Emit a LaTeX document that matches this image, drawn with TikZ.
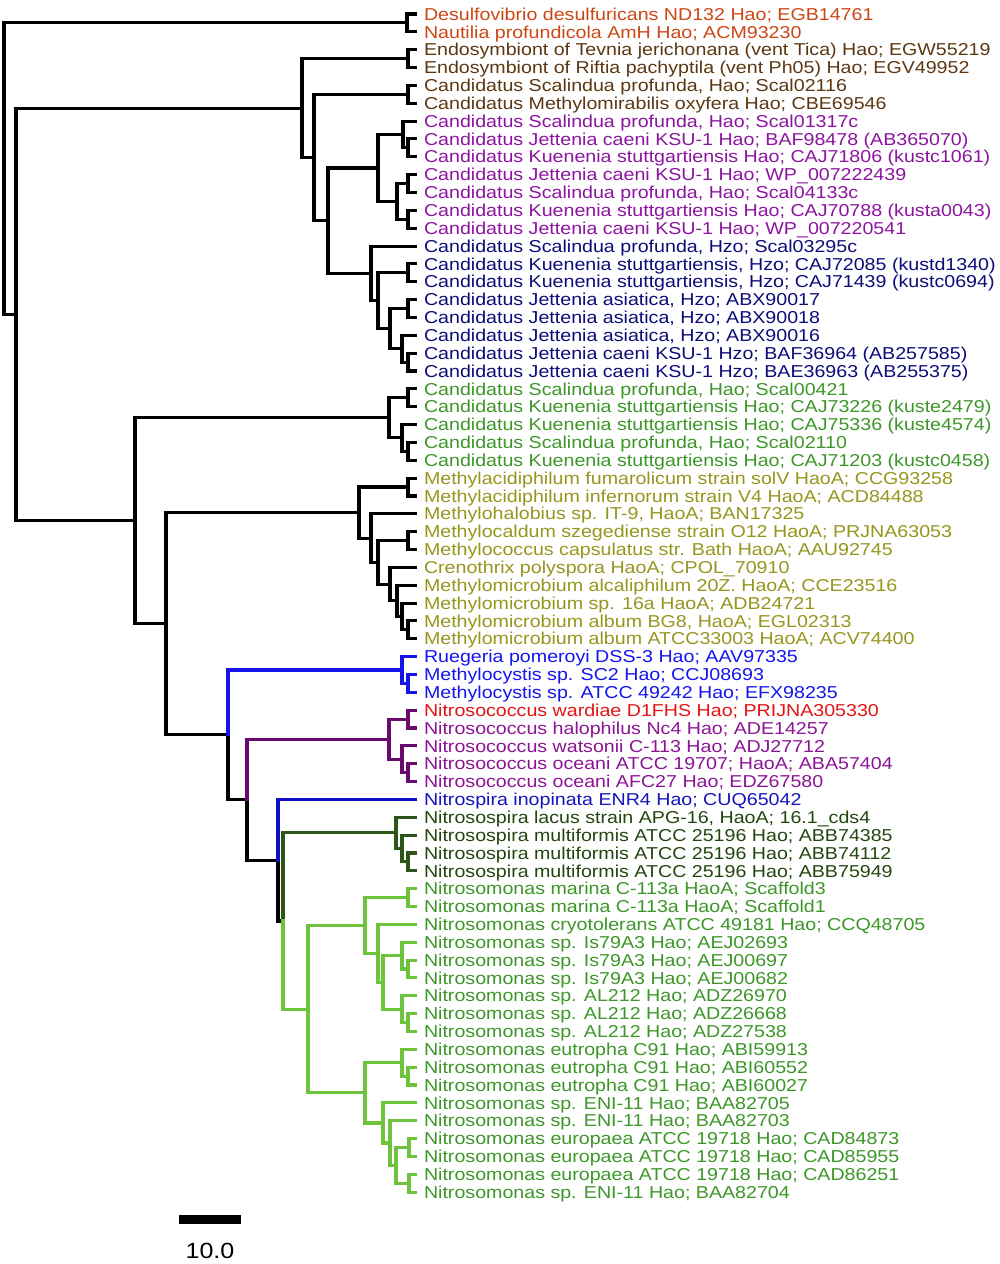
\documentclass[tikz,border=0pt]{standalone}
\usepackage{fontspec}
\setmainfont{Liberation Sans}[FakeStretch=1.14]
% label colours
\definecolor{tOrange}{RGB}{206,70,20}
\definecolor{tBrown}{RGB}{92,55,18}
\definecolor{tPurple}{RGB}{140,20,160}
\definecolor{tNavy}{RGB}{12,12,120}
\definecolor{tGreen}{RGB}{60,150,40}
\definecolor{tOlive}{RGB}{150,150,30}
\definecolor{tBlue}{RGB}{20,20,240}
\definecolor{tRed}{RGB}{228,20,20}
\definecolor{tViolet}{RGB}{140,20,150}
\definecolor{tMidBlue}{RGB}{20,20,190}
\definecolor{tDkGreen}{RGB}{35,70,15}
% branch colours
\definecolor{bBlue}{RGB}{20,20,235}
\definecolor{bPurple}{RGB}{105,10,110}
\definecolor{bMidBlue}{RGB}{15,15,195}
\definecolor{bDkGreen}{RGB}{45,85,25}
\definecolor{bLtGreen}{RGB}{110,195,60}
\begin{document}
\begin{tikzpicture}[x=0.02cm, y=-0.02cm,
		branch/.style={line width=0.062cm, line cap=rect, line join=miter},
		leaf/.style={anchor=west, inner xsep=0.18cm, inner ysep=0pt, outer sep=0pt,
			text height=7.05pt, text depth=0pt, font=\fontsize{9.8}{11}\selectfont}]
			\useasboundingbox (0,0) rectangle (1000,1264);
			% leaves
			\node [leaf, text=tOrange] (l1) at (415,14) {Desulfovibrio desulfuricans ND132 Hao; EGB14761};
			\node [leaf, text=tOrange] (l2) at (415,31.85) {Nautilia profundicola AmH Hao; ACM93230};
			\node [leaf, text=tBrown] (l3) at (415,49.7) {Endosymbiont of Tevnia jerichonana (vent Tica) Hao; EGW55219};
			\node [leaf, text=tBrown] (l4) at (415,67.55) {Endosymbiont of Riftia pachyptila (vent Ph05) Hao; EGV49952};
			\node [leaf, text=tBrown] (l5) at (415,85.4) {Candidatus Scalindua profunda, Hao; Scal02116};
			\node [leaf, text=tBrown] (l6) at (415,103.25) {Candidatus Methylomirabilis oxyfera Hao; CBE69546};
			\node [leaf, text=tPurple] (l7) at (415,121.1) {Candidatus Scalindua profunda, Hao; Scal01317c};
			\node [leaf, text=tPurple] (l8) at (415,138.95) {Candidatus Jettenia caeni KSU-1 Hao; BAF98478 (AB365070)};
			\node [leaf, text=tPurple] (l9) at (415,156.8) {Candidatus Kuenenia stuttgartiensis Hao; CAJ71806 (kustc1061)};
			\node [leaf, text=tPurple] (l10) at (415,174.65) {Candidatus Jettenia caeni KSU-1 Hao; WP\_007222439};
			\node [leaf, text=tPurple] (l11) at (415,192.5) {Candidatus Scalindua profunda, Hao; Scal04133c};
			\node [leaf, text=tPurple] (l12) at (415,210.35) {Candidatus Kuenenia stuttgartiensis Hao; CAJ70788 (kusta0043)};
			\node [leaf, text=tPurple] (l13) at (415,228.2) {Candidatus Jettenia caeni KSU-1 Hao; WP\_007220541};
			\node [leaf, text=tNavy] (l14) at (415,246.05) {Candidatus Scalindua profunda, Hzo; Scal03295c};
			\node [leaf, text=tNavy] (l15) at (415,263.9) {Candidatus Kuenenia stuttgartiensis, Hzo; CAJ72085 (kustd1340)};
			\node [leaf, text=tNavy] (l16) at (415,281.75) {Candidatus Kuenenia stuttgartiensis, Hzo; CAJ71439 (kustc0694)};
			\node [leaf, text=tNavy] (l17) at (415,299.6) {Candidatus Jettenia asiatica, Hzo; ABX90017};
			\node [leaf, text=tNavy] (l18) at (415,317.45) {Candidatus Jettenia asiatica, Hzo; ABX90018};
			\node [leaf, text=tNavy] (l19) at (415,335.3) {Candidatus Jettenia asiatica, Hzo; ABX90016};
			\node [leaf, text=tNavy] (l20) at (415,353.15) {Candidatus Jettenia caeni KSU-1 Hzo; BAF36964 (AB257585)};
			\node [leaf, text=tNavy] (l21) at (415,371) {Candidatus Jettenia caeni KSU-1 Hzo; BAE36963 (AB255375)};
			\node [leaf, text=tGreen] (l22) at (415,388.85) {Candidatus Scalindua profunda, Hao; Scal00421};
			\node [leaf, text=tGreen] (l23) at (415,406.7) {Candidatus Kuenenia stuttgartiensis Hao; CAJ73226 (kuste2479)};
			\node [leaf, text=tGreen] (l24) at (415,424.55) {Candidatus Kuenenia stuttgartiensis Hao; CAJ75336 (kuste4574)};
			\node [leaf, text=tGreen] (l25) at (415,442.4) {Candidatus Scalindua profunda, Hao; Scal02110};
			\node [leaf, text=tGreen] (l26) at (415,460.25) {Candidatus Kuenenia stuttgartiensis Hao; CAJ71203 (kustc0458)};
			\node [leaf, text=tOlive] (l27) at (415,478.1) {Methylacidiphilum fumarolicum strain solV HaoA; CCG93258};
			\node [leaf, text=tOlive] (l28) at (415,495.95) {Methylacidiphilum infernorum strain V4 HaoA; ACD84488};
			\node [leaf, text=tOlive] (l29) at (415,513.8) {Methylohalobius sp. IT-9, HaoA; BAN17325};
			\node [leaf, text=tOlive] (l30) at (415,531.65) {Methylocaldum szegediense strain O12 HaoA; PRJNA63053};
			\node [leaf, text=tOlive] (l31) at (415,549.5) {Methylococcus capsulatus str. Bath HaoA; AAU92745};
			\node [leaf, text=tOlive] (l32) at (415,567.35) {Crenothrix polyspora HaoA; CPOL\_70910};
			\node [leaf, text=tOlive] (l33) at (415,585.2) {Methylomicrobium alcaliphilum 20Z. HaoA; CCE23516};
			\node [leaf, text=tOlive] (l34) at (415,603.05) {Methylomicrobium sp. 16a HaoA; ADB24721};
			\node [leaf, text=tOlive] (l35) at (415,620.9) {Methylomicrobium album BG8, HaoA; EGL02313};
			\node [leaf, text=tOlive] (l36) at (415,638.75) {Methylomicrobium album ATCC33003 HaoA; ACV74400};
			\node [leaf, text=tBlue] (l37) at (415,656.6) {Ruegeria pomeroyi DSS-3 Hao; AAV97335};
			\node [leaf, text=tBlue] (l38) at (415,674.45) {Methylocystis sp. SC2 Hao; CCJ08693};
			\node [leaf, text=tBlue] (l39) at (415,692.3) {Methylocystis sp. ATCC 49242 Hao; EFX98235};
			\node [leaf, text=tRed] (l40) at (415,710.15) {Nitrosococcus wardiae D1FHS Hao; PRIJNA305330};
			\node [leaf, text=tViolet] (l41) at (415,728) {Nitrosococcus halophilus Nc4 Hao; ADE14257};
			\node [leaf, text=tViolet] (l42) at (415,745.85) {Nitrosococcus watsonii C-113 Hao; ADJ27712};
			\node [leaf, text=tViolet] (l43) at (415,763.7) {Nitrosococcus oceani ATCC 19707; HaoA; ABA57404};
			\node [leaf, text=tViolet] (l44) at (415,781.55) {Nitrosococcus oceani AFC27 Hao; EDZ67580};
			\node [leaf, text=tMidBlue] (l45) at (415,799.4) {Nitrospira inopinata ENR4 Hao; CUQ65042};
			\node [leaf, text=tDkGreen] (l46) at (415,817.25) {Nitrosospira lacus strain APG-16, HaoA; 16.1\_cds4};
			\node [leaf, text=tDkGreen] (l47) at (415,835.1) {Nitrosospira multiformis ATCC 25196 Hao; ABB74385};
			\node [leaf, text=tDkGreen] (l48) at (415,852.95) {Nitrosospira multiformis ATCC 25196 Hao; ABB74112};
			\node [leaf, text=tDkGreen] (l49) at (415,870.8) {Nitrosospira multiformis ATCC 25196 Hao; ABB75949};
			\node [leaf, text=tGreen] (l50) at (415,888.65) {Nitrosomonas marina C-113a HaoA; Scaffold3};
			\node [leaf, text=tGreen] (l51) at (415,906.5) {Nitrosomonas marina C-113a HaoA; Scaffold1};
			\node [leaf, text=tGreen] (l52) at (415,924.35) {Nitrosomonas cryotolerans ATCC 49181 Hao; CCQ48705};
			\node [leaf, text=tGreen] (l53) at (415,942.2) {Nitrosomonas sp. Is79A3 Hao; AEJ02693};
			\node [leaf, text=tGreen] (l54) at (415,960.05) {Nitrosomonas sp. Is79A3 Hao; AEJ00697};
			\node [leaf, text=tGreen] (l55) at (415,977.9) {Nitrosomonas sp. Is79A3 Hao; AEJ00682};
			\node [leaf, text=tGreen] (l56) at (415,995.75) {Nitrosomonas sp. AL212 Hao; ADZ26970};
			\node [leaf, text=tGreen] (l57) at (415,1013.6) {Nitrosomonas sp. AL212 Hao; ADZ26668};
			\node [leaf, text=tGreen] (l58) at (415,1031.45) {Nitrosomonas sp. AL212 Hao; ADZ27538};
			\node [leaf, text=tGreen] (l59) at (415,1049.3) {Nitrosomonas eutropha C91 Hao; ABI59913};
			\node [leaf, text=tGreen] (l60) at (415,1067.15) {Nitrosomonas eutropha C91 Hao; ABI60552};
			\node [leaf, text=tGreen] (l61) at (415,1085) {Nitrosomonas eutropha C91 Hao; ABI60027};
			\node [leaf, text=tGreen] (l62) at (415,1102.85) {Nitrosomonas sp. ENI-11 Hao; BAA82705};
			\node [leaf, text=tGreen] (l63) at (415,1120.7) {Nitrosomonas sp. ENI-11 Hao; BAA82703};
			\node [leaf, text=tGreen] (l64) at (415,1138.55) {Nitrosomonas europaea ATCC 19718 Hao; CAD84873};
			\node [leaf, text=tGreen] (l65) at (415,1156.4) {Nitrosomonas europaea ATCC 19718 Hao; CAD85955};
			\node [leaf, text=tGreen] (l66) at (415,1174.25) {Nitrosomonas europaea ATCC 19718 Hao; CAD86251};
			\node [leaf, text=tGreen] (l67) at (415,1192.1) {Nitrosomonas sp. ENI-11 Hao; BAA82704};
			% internal nodes
			\coordinate (r0) at (4,168.68);
			\coordinate (a1) at (407,22.93);
			\coordinate (b0) at (16,314.43);
			\coordinate (c0) at (302,108.07);
			\coordinate (a2) at (408,58.63);
			\coordinate (c1) at (314,157.5);
			\coordinate (a3) at (408,94.33);
			\coordinate (c2) at (328,220.68);
			\coordinate (c3) at (378,167.96);
			\coordinate (c4) at (403,134.49);
			\coordinate (a4) at (408,147.88);
			\coordinate (c5) at (397,201.43);
			\coordinate (a5) at (408,183.58);
			\coordinate (a6) at (408,219.28);
			\coordinate (c7) at (371,273.39);
			\coordinate (c8) at (378,300.72);
			\coordinate (a7) at (408,272.83);
			\coordinate (c9) at (390,328.61);
			\coordinate (a8) at (408,308.53);
			\coordinate (c10) at (402,348.69);
			\coordinate (a9) at (408,362.08);
			\coordinate (d0) at (135,520.78);
			\coordinate (d1) at (389,417.86);
			\coordinate (a10) at (408,397.78);
			\coordinate (d2) at (402,437.94);
			\coordinate (a11) at (408,451.33);
			\coordinate (e0) at (166,623.7);
			\coordinate (e1) at (359,512.55);
			\coordinate (a12) at (408,487.03);
			\coordinate (e2) at (371,538.07);
			\coordinate (e3) at (378,562.33);
			\coordinate (a13) at (408,540.58);
			\coordinate (e4) at (390,584.09);
			\coordinate (e5) at (397,600.82);
			\coordinate (e6) at (402,616.44);
			\coordinate (a14) at (408,629.83);
			\coordinate (f0) at (228,734.84);
			\coordinate (g0) at (402,669.99);
			\coordinate (a15) at (408,683.38);
			\coordinate (f1) at (247,799.68);
			\coordinate (h0) at (389,739.16);
			\coordinate (a16) at (408,719.08);
			\coordinate (h1) at (402,759.24);
			\coordinate (a17) at (408,772.63);
			\coordinate (i0) at (278,860.2);
			\coordinate (i1) at (283,921.01);
			\coordinate (j0) at (396,832.87);
			\coordinate (j1) at (402,848.49);
			\coordinate (a18) at (408,861.88);
			\coordinate (k0) at (308,1009.15);
			\coordinate (k1) at (365,925.47);
			\coordinate (a19) at (408,897.58);
			\coordinate (k2) at (378,953.36);
			\coordinate (k3) at (383,982.37);
			\coordinate (k4) at (402,955.59);
			\coordinate (a20) at (408,968.98);
			\coordinate (k5) at (402,1009.14);
			\coordinate (a21) at (408,1022.53);
			\coordinate (m0) at (365,1092.82);
			\coordinate (m1) at (402,1062.69);
			\coordinate (a22) at (408,1076.08);
			\coordinate (m2) at (383,1122.94);
			\coordinate (m3) at (390,1143.02);
			\coordinate (m4) at (396,1165.33);
			\coordinate (a23) at (409,1147.48);
			\coordinate (a24) at (409,1183.18);
			% black branches
			\draw [branch] (r0) |- (a1) (r0) |- (b0);
			\draw [branch] (a1) |- (l1.west) (a1) |- (l2.west);
			\draw [branch] (b0) |- (c0) (b0) |- (d0);
			\draw [branch] (c0) |- (a2) (c0) |- (c1);
			\draw [branch] (a2) |- (l3.west) (a2) |- (l4.west);
			\draw [branch] (c1) |- (a3) (c1) |- (c2);
			\draw [branch] (a3) |- (l5.west) (a3) |- (l6.west);
			\draw [branch] (c2) |- (c3) (c2) |- (c7);
			\draw [branch] (c3) |- (c4) (c3) |- (c5);
			\draw [branch] (c4) |- (l7.west) (c4) |- (a4);
			\draw [branch] (a4) |- (l8.west) (a4) |- (l9.west);
			\draw [branch] (c5) |- (a5) (c5) |- (a6);
			\draw [branch] (a5) |- (l10.west) (a5) |- (l11.west);
			\draw [branch] (a6) |- (l12.west) (a6) |- (l13.west);
			\draw [branch] (c7) |- (l14.west) (c7) |- (c8);
			\draw [branch] (c8) |- (a7) (c8) |- (c9);
			\draw [branch] (a7) |- (l15.west) (a7) |- (l16.west);
			\draw [branch] (c9) |- (a8) (c9) |- (c10);
			\draw [branch] (a8) |- (l17.west) (a8) |- (l18.west);
			\draw [branch] (c10) |- (l19.west) (c10) |- (a9);
			\draw [branch] (a9) |- (l20.west) (a9) |- (l21.west);
			\draw [branch] (d0) |- (d1) (d0) |- (e0);
			\draw [branch] (d1) |- (a10) (d1) |- (d2);
			\draw [branch] (a10) |- (l22.west) (a10) |- (l23.west);
			\draw [branch] (d2) |- (l24.west) (d2) |- (a11);
			\draw [branch] (a11) |- (l25.west) (a11) |- (l26.west);
			\draw [branch] (e0) |- (e1) (e0) |- (f0);
			\draw [branch] (e1) |- (a12) (e1) |- (e2);
			\draw [branch] (a12) |- (l27.west) (a12) |- (l28.west);
			\draw [branch] (e2) |- (l29.west) (e2) |- (e3);
			\draw [branch] (e3) |- (a13) (e3) |- (e4);
			\draw [branch] (a13) |- (l30.west) (a13) |- (l31.west);
			\draw [branch] (e4) |- (l32.west) (e4) |- (e5);
			\draw [branch] (e5) |- (l33.west) (e5) |- (e6);
			\draw [branch] (e6) |- (l34.west) (e6) |- (a14);
			\draw [branch] (a14) |- (l35.west) (a14) |- (l36.west);
			\draw [branch] (f0) |- (f1);
			\draw [branch] (f1) |- (i0);
			\draw [branch] (i0) |- (i1);
			% Methylocystis / Ruegeria
			\draw [branch, bBlue] (f0) |- (g0);
			\draw [branch, bBlue] (g0) |- (l37.west) (g0) |- (a15);
			\draw [branch, bBlue] (a15) |- (l38.west) (a15) |- (l39.west);
			% Nitrosococcus
			\draw [branch, bPurple] (f1) |- (h0);
			\draw [branch, bPurple] (h0) |- (a16) (h0) |- (h1);
			\draw [branch, bPurple] (a16) |- (l40.west) (a16) |- (l41.west);
			\draw [branch, bPurple] (h1) |- (l42.west) (h1) |- (a17);
			\draw [branch, bPurple] (a17) |- (l43.west) (a17) |- (l44.west);
			% Nitrospira
			\draw [branch, bMidBlue] (i0) |- (l45.west);
			% Nitrosospira
			\draw [branch, bDkGreen] (i1) |- (j0);
			\draw [branch, bDkGreen] (j0) |- (l46.west) (j0) |- (j1);
			\draw [branch, bDkGreen] (j1) |- (l47.west) (j1) |- (a18);
			\draw [branch, bDkGreen] (a18) |- (l48.west) (a18) |- (l49.west);
			% Nitrosomonas
			\draw [branch, bLtGreen] (i1) |- (k0);
			\draw [branch, bLtGreen] (k0) |- (k1) (k0) |- (m0);
			\draw [branch, bLtGreen] (k1) |- (a19) (k1) |- (k2);
			\draw [branch, bLtGreen] (a19) |- (l50.west) (a19) |- (l51.west);
			\draw [branch, bLtGreen] (k2) |- (l52.west) (k2) |- (k3);
			\draw [branch, bLtGreen] (k3) |- (k4) (k3) |- (k5);
			\draw [branch, bLtGreen] (k4) |- (l53.west) (k4) |- (a20);
			\draw [branch, bLtGreen] (a20) |- (l54.west) (a20) |- (l55.west);
			\draw [branch, bLtGreen] (k5) |- (l56.west) (k5) |- (a21);
			\draw [branch, bLtGreen] (a21) |- (l57.west) (a21) |- (l58.west);
			\draw [branch, bLtGreen] (m0) |- (m1) (m0) |- (m2);
			\draw [branch, bLtGreen] (m1) |- (l59.west) (m1) |- (a22);
			\draw [branch, bLtGreen] (a22) |- (l60.west) (a22) |- (l61.west);
			\draw [branch, bLtGreen] (m2) |- (l62.west) (m2) |- (m3);
			\draw [branch, bLtGreen] (m3) |- (l63.west) (m3) |- (m4);
			\draw [branch, bLtGreen] (m4) |- (a23) (m4) |- (a24);
			\draw [branch, bLtGreen] (a23) |- (l64.west) (a23) |- (l65.west);
			\draw [branch, bLtGreen] (a24) |- (l66.west) (a24) |- (l67.west);
			% scale bar
			\coordinate (sbl) at (179,1219);
			\coordinate (sbr) at (241,1219);
			\draw [line width=0.18cm] (sbl) -- (sbr);
			\node [font=\fontsize{12.5}{14}\selectfont, inner sep=0pt] (slbl) at (210,1250.5) {10.0};
		\end{tikzpicture}
\end{document}
